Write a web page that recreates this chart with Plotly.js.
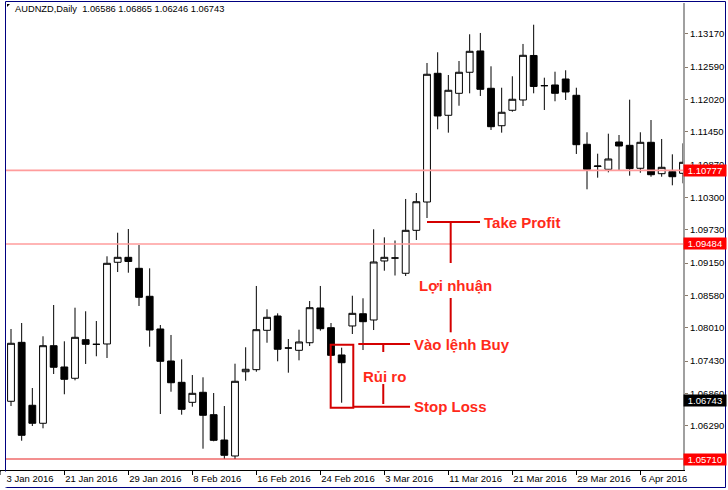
<!DOCTYPE html>
<html>
<head>
<meta charset="utf-8">
<script src="https://cdn.plot.ly/plotly-3.0.1.min.js"></script>
<style>html,body{margin:0;padding:0;background:#fff;}#chart{width:728px;height:490px;}</style>
</head>
<body>
<div id="chart"></div>
<script>
// ---- data ----
const dates = ['13 Jan','14 Jan','15 Jan','18 Jan','19 Jan','20 Jan','21 Jan','22 Jan','25 Jan','26 Jan','27 Jan','28 Jan','29 Jan',
  '1 Feb','2 Feb','3 Feb','4 Feb','5 Feb','8 Feb','9 Feb','10 Feb','11 Feb','12 Feb','15 Feb','16 Feb','17 Feb','18 Feb','19 Feb',
  '22 Feb','23 Feb','24 Feb','25 Feb','26 Feb','29 Feb','1 Mar','2 Mar','3 Mar','4 Mar','7 Mar','8 Mar','9 Mar','10 Mar','11 Mar',
  '14 Mar','15 Mar','16 Mar','17 Mar','18 Mar','21 Mar','22 Mar','23 Mar','24 Mar','25 Mar','28 Mar','29 Mar','30 Mar','31 Mar',
  '1 Apr','4 Apr','5 Apr','6 Apr','7 Apr','8 Apr','11 Apr','12 Apr'];
// bars from 14 Jan onward (13 Jan lies off the left edge)
const openP  = [1.06723,1.07758,1.06653,1.06337,1.07699,1.07325,1.07127,1.07804,1.07723,1.07729,1.09163,1.09250,
  1.09057,1.08566,1.07992,1.07430,1.07056,1.06705,1.06881,1.06488,1.06043,1.05763,1.07242,1.07278,1.07969,1.08220,1.07658,
  1.07618,1.07751,1.08361,1.08015,1.07536,1.08045,1.08260,1.08150,1.09186,1.09238,1.08970,1.09724,1.10221,1.12480,1.11743,
  1.12129,1.12498,1.12872,1.12217,1.11560,1.11831,1.12012,1.12793,1.12263,1.12275,1.12380,1.12094,1.11234,1.10844,1.10795,
  1.11274,1.11216,1.10813,1.11269,1.10718,1.10753,1.10725];
const highP  = [1.07992,1.08097,1.06956,1.07864,1.08413,1.07776,1.08366,1.08303,1.08132,1.09268,1.09682,1.09747,
  1.09466,1.09057,1.08062,1.07887,1.07460,1.07184,1.07144,1.06868,1.06640,1.07383,1.07671,1.08747,1.08338,1.08267,1.07816,
  1.07980,1.08483,1.08747,1.08097,1.07664,1.08576,1.08531,1.09742,1.09601,1.09545,1.10274,1.10379,1.12661,1.12849,1.12450,
  1.12696,1.13165,1.13188,1.12603,1.12227,1.12428,1.12995,1.13333,1.12403,1.12508,1.12533,1.12227,1.11445,1.11069,1.11420,
  1.11397,1.12017,1.11445,1.11660,1.11327,1.11058,1.11251];
const lowP   = [1.06640,1.06031,1.06289,1.06249,1.07202,1.06846,1.07091,1.07378,1.07513,1.07483,1.08992,1.08980,
  1.08396,1.07681,1.06500,1.06891,1.06488,1.06628,1.05891,1.06021,1.05715,1.05710,1.07084,1.07242,1.07751,1.07425,1.07225,
  1.07442,1.07693,1.07962,1.07530,1.06698,1.07904,1.07623,1.07974,1.09015,1.08931,1.08922,1.09554,1.09940,1.11497,1.11438,
  1.11911,1.12129,1.12082,1.11485,1.11438,1.11806,1.11906,1.12129,1.11836,1.11989,1.12012,1.11064,1.10444,1.10648,1.10742,
  1.10778,1.10683,1.10735,1.10665,1.10665,1.10514,1.10549];
const closeP = [1.07741,1.06126,1.06337,1.07699,1.07320,1.07109,1.07846,1.07723,1.07723,1.09145,1.09250,1.09177,
  1.08548,1.07974,1.07425,1.07049,1.06582,1.06863,1.06477,1.06038,1.05775,1.07074,1.07285,1.07980,1.08197,1.07636,1.07658,
  1.07764,1.08366,1.07997,1.07530,1.07400,1.08267,1.08120,1.09168,1.09250,1.09238,1.09724,1.10226,1.12463,1.11731,1.12182,
  1.12498,1.12866,1.12199,1.11543,1.11796,1.12024,1.12796,1.12249,1.12263,1.12129,1.12152,1.11227,1.10795,1.10853,1.10976,
  1.11204,1.10806,1.11269,1.10700,1.10830,1.10665,1.10918];
const tickDates  = ['13 Jan','21 Jan','29 Jan','8 Feb','16 Feb','24 Feb','3 Mar','11 Mar','21 Mar','29 Mar','6 Apr'];
const tickLabels = ['13 Jan 2016','21 Jan 2016','29 Jan 2016','8 Feb 2016','16 Feb 2016','24 Feb 2016','3 Mar 2016',
  '11 Mar 2016','21 Mar 2016','29 Mar 2016','6 Apr 2016'];
const priceTicks = [1.05710,1.06290,1.06860,1.07430,1.08010,1.08580,1.09150,1.09730,1.10300,1.10870,1.11450,1.12020,1.12590,1.13170];
const levels = [1.10777, 1.09484, 1.05710];
const bid = 1.06743;
const header = 'AUDNZD,Daily  1.06586 1.06865 1.06246 1.06743';
// trade setup levels
const takeProfit = 1.09870, entry = 1.07728, stopLoss = 1.06628;

// ---- layout helpers (pixel -> paper) ----
const PW = 683, PH = 467, PT = 3;
const px = x => x / PW;
const py = y => (PT + PH - y) / PH;
const FONT = 'Liberation Sans, Arial, sans-serif';
const RED_LINE = '#d40000', RED_TEXT = '#ff2a1a';

const trace = {
  type: 'candlestick',
  x: dates.slice(1), open: openP, high: highP, low: lowP, close: closeP,
  increasing: {line: {color: '#000', width: 1}, fillcolor: '#fff'},
  decreasing: {line: {color: '#000', width: 1}, fillcolor: '#000'},
  whiskerwidth: 0, hoverinfo: 'skip', showlegend: false
};

const shapes = [];
// horizontal price levels
levels.forEach((v, k) => shapes.push({type: 'line', xref: 'paper', x0: 0, x1: 1, yref: 'y', y0: v, y1: v,
  line: {color: k < 2 ? '#ff9c9c' : '#e82020', width: k < 2 ? 1.6 : 1.2}, layer: 'above'}));
// setup lines (data coords)
const L = (x0, y0, x1, y1) => shapes.push({type: 'line', xref: 'x', yref: 'y', x0, y0, x1, y1,
  line: {color: RED_LINE, width: 2}, layer: 'above'});
L(40.0, takeProfit, 44.97, takeProfit);
L(42.22, takeProfit, 42.22, 1.09150);
L(42.22, 1.08536, 42.22, 1.07934);
L(33.56, entry, 38.41, entry);
L(35.9, entry, 35.9, 1.07588);
L(35.9, 1.07026, 35.9, 1.06675);
L(33.09, stopLoss, 38.41, stopLoss);
shapes.push({type: 'rect', xref: 'x', yref: 'y', x0: 30.97, x1: 33.09, y0: 1.06610, y1: 1.07716,
  line: {color: RED_LINE, width: 2}, fillcolor: 'rgba(0,0,0,0)', layer: 'above'});
// left cover + navy frame
shapes.push({type: 'rect', xref: 'paper', yref: 'paper', x0: px(0), x1: px(5), y0: py(470), y1: py(0),
  line: {width: 0}, fillcolor: '#fff', layer: 'above'});
shapes.push({type: 'rect', xref: 'paper', yref: 'paper', x0: px(5.5), x1: px(725.5), y0: py(487.5), y1: py(1.5),
  line: {color: '#000080', width: 1}, fillcolor: 'rgba(0,0,0,0)', layer: 'above'});
// small corner triangle
shapes.push({type: 'path', xref: 'paper', yref: 'paper',
  path: `M ${px(7)} ${py(4)} L ${px(10)} ${py(4)} L ${px(7)} ${py(7)} Z`,
  fillcolor: '#000', line: {width: 0}, layer: 'above'});

const annotations = [];
// white mask hiding the part of the first date label that falls outside the chart window
annotations.push({xref: 'paper', yref: 'paper', x: px(0), y: py(471), xanchor: 'left', yanchor: 'top',
  text: ' ', showarrow: false, bgcolor: '#fff', width: 5, height: 15, borderpad: 0});
annotations.push({xref: 'paper', yref: 'paper', x: px(13), y: py(9), xanchor: 'left', yanchor: 'middle',
  text: header, showarrow: false, font: {family: FONT, size: 9.3, color: '#000'}});
const priceBox = (v, bg) => annotations.push({xref: 'paper', yref: 'y', x: 1, y: v, xanchor: 'left', yanchor: 'middle',
  text: v.toFixed(5), showarrow: false, bgcolor: bg, borderpad: 0, width: 42, height: 11, align: 'center',
  font: {family: FONT, size: 9.5, color: '#fff'}});
levels.forEach(v => priceBox(v, '#ff0000'));
priceBox(bid, '#000');
const T = (x, y, text) => annotations.push({xref: 'x', yref: 'y', x, y, xanchor: 'left', yanchor: 'middle',
  text, showarrow: false, font: {family: FONT, size: 15, color: RED_TEXT, weight: 'bold'}});
T(45.2, takeProfit, '<b>Take Profit</b>');
T(39.1, 1.08747, '<b>Lợi nhuận</b>');
T(38.6, entry, '<b>Vào lệnh Buy</b>');
T(33.8, 1.07167, '<b>Rủi ro</b>');
T(38.6, stopLoss, '<b>Stop Loss</b>');

const layout = {
  width: 728, height: 490,
  margin: {l: 0, r: 45, t: PT, b: 20, pad: 0},
  paper_bgcolor: '#fff', plot_bgcolor: '#fff',
  showlegend: false, hovermode: false,
  boxgap: 0.2, boxgroupgap: 0.2,
  xaxis: {
    type: 'category', categoryorder: 'array', categoryarray: dates,
    range: [-0.031, 64.0], fixedrange: true,
    rangeslider: {visible: false},
    showgrid: false, zeroline: false,
    showline: true, linecolor: '#000', linewidth: 1,
    ticks: 'outside', ticklen: 4, tickcolor: '#000', tickwidth: 1,
    tickmode: 'array', tickvals: tickDates, ticktext: tickLabels,
    ticklabelposition: 'outside right',
    tickfont: {family: FONT, size: 9.5, color: '#000'}
  },
  yaxis: {
    side: 'right', range: [1.05517, 1.13714], fixedrange: true,
    showgrid: false, zeroline: false,
    showline: true, linecolor: '#a0a0a0', linewidth: 2,
    ticks: 'outside', ticklen: 3, tickcolor: '#8a7a6a', tickwidth: 1,
    tickmode: 'array', tickvals: priceTicks,
    ticktext: priceTicks.map(v => levels.includes(v) ? '' : v.toFixed(5)),
    tickfont: {family: FONT, size: 9.5, color: '#000'}
  },
  shapes, annotations
};

Plotly.newPlot('chart', [trace], layout, {staticPlot: true, displayModeBar: false});
</script>
</body>
</html>
